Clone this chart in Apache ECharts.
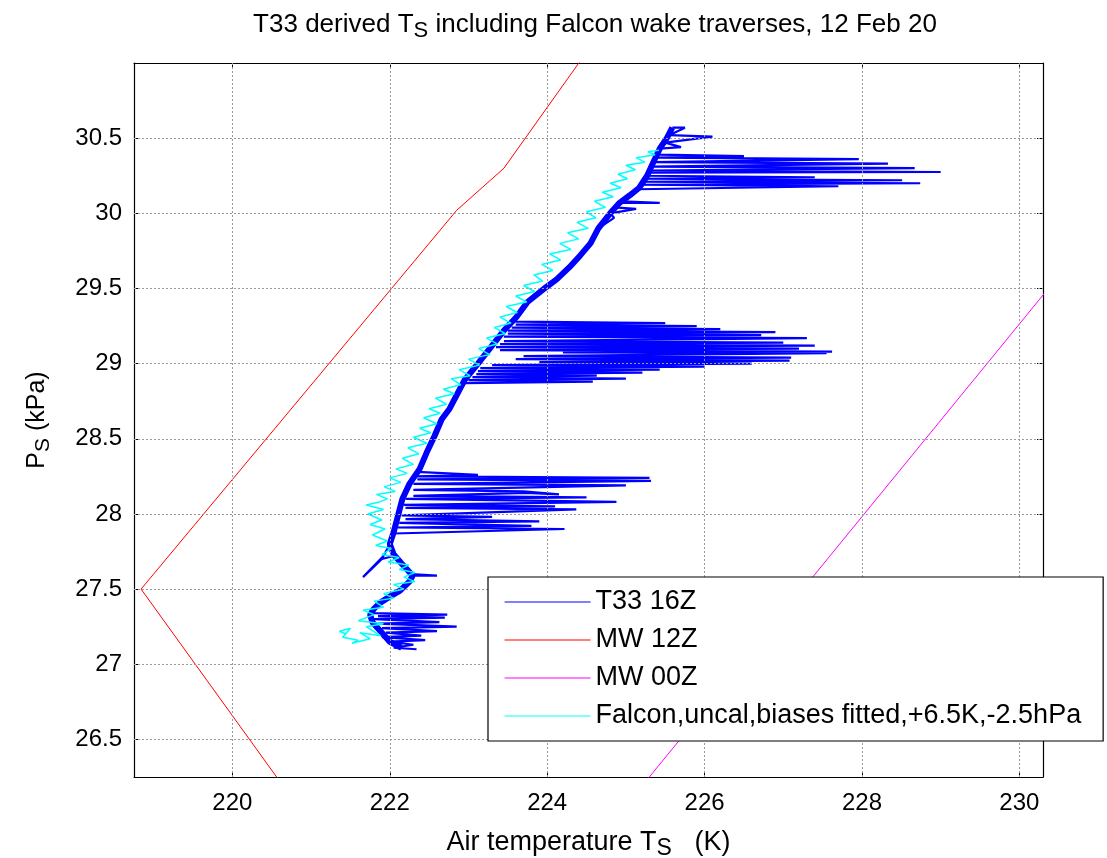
<!DOCTYPE html>
<html><head><meta charset="utf-8">
<script src="https://cdn.jsdelivr.net/npm/echarts@6/dist/echarts.min.js"></script>
<style>html,body{margin:0;padding:0;background:#fff}#c{width:1107px;height:858px}</style>
</head><body><div id="c"></div>
<script>
const xTicks = [220, 222, 224, 226, 228, 230];
const yTicks = [26.5, 27, 27.5, 28, 28.5, 29, 29.5, 30, 30.5];

// T33 16Z full trace (with wake-traverse excursions), [T K, P kPa]
const t33Trace = [
  [222.34, 27.10], [222.05, 27.11], [222.3, 27.13], [222.0, 27.15], [222.45, 27.16], [221.9, 27.18], [222.4, 27.19],
  [221.95, 27.21], [222.6, 27.22], [221.9, 27.24], [222.85, 27.25], [221.85, 27.27], [222.63, 27.28], [221.8, 27.3],
  [222.7, 27.31], [221.85, 27.32], [222.73, 27.33], [221.78, 27.34],
  [221.8, 27.37], [221.88, 27.41], [222.0, 27.45], [222.13, 27.49], [222.25, 27.55], [222.29, 27.59], [222.6, 27.59],
  [222.27, 27.6], [222.15, 27.67], [222.05, 27.72], [221.9, 27.7], [221.66, 27.58], [221.92, 27.72], [222.0, 27.8], [222.05, 27.87],
  [224.22, 27.9], [222.1, 27.91], [223.8, 27.92], [222.12, 27.94], [223.9, 27.95], [222.2, 27.965], [223.3, 27.98], [222.15, 27.99],
  [224.37, 28.03], [222.2, 28.04], [224.1, 28.05], [222.18, 28.06], [224.88, 28.08], [222.2, 28.1], [224.5, 28.11], [222.3, 28.12],
  [223.74, 28.14], [224.15, 28.13], [223.7, 28.15], [222.3, 28.16], [225.0, 28.19], [222.3, 28.2], [225.32, 28.22], [222.35, 28.23],
  [225.3, 28.24], [222.35, 28.25], [223.12, 28.26], [222.35, 28.28],
  [222.47, 28.41], [222.57, 28.52], [222.66, 28.63], [222.76, 28.7], [222.95, 28.87],
  [224.58, 28.88], [223.0, 28.89], [225.0, 28.9], [223.05, 28.91], [224.63, 28.92], [223.1, 28.93], [225.21, 28.94], [223.12, 28.95],
  [225.43, 28.96], [223.15, 28.97], [226.0, 28.98], [223.3, 28.99], [226.6, 29.0], [223.9, 29.01], [227.08, 29.02], [223.6, 29.03],
  [227.1, 29.04], [223.7, 29.05], [227.55, 29.07], [224.2, 29.075], [227.62, 29.08], [223.4, 29.09], [227.2, 29.1], [223.35, 29.11],
  [227.4, 29.12], [223.4, 29.13], [227.0, 29.14], [223.45, 29.15], [227.3, 29.17], [223.45, 29.18], [226.72, 29.19], [223.5, 29.2],
  [226.9, 29.21], [223.5, 29.22], [226.2, 29.23], [223.55, 29.24], [225.9, 29.25], [223.6, 29.26], [225.5, 29.27], [223.6, 29.28],
  [223.61, 29.31], [223.75, 29.41], [223.99, 29.51], [224.12, 29.56], [224.28, 29.64], [224.42, 29.72], [224.55, 29.8], [224.65, 29.9],
  [224.85, 29.97], [224.8, 30.0], [225.13, 30.03], [224.85, 30.04], [224.92, 30.07], [225.43, 30.07], [224.95, 30.08], [225.05, 30.12],
  [225.15, 30.16],
  [227.7, 30.18], [225.18, 30.19], [228.74, 30.2], [225.2, 30.21], [228.51, 30.22], [225.22, 30.23], [227.4, 30.24], [225.25, 30.25],
  [225.28, 30.27], [229.0, 30.275], [225.3, 30.285], [228.67, 30.3], [225.32, 30.31], [228.33, 30.33], [225.35, 30.34], [227.96, 30.36],
  [225.4, 30.37], [226.5, 30.38], [225.42, 30.39],
  [225.43, 30.43], [225.7, 30.44], [225.5, 30.47], [226.1, 30.51], [225.55, 30.52], [225.75, 30.57], [225.59, 30.57]
];

// T33 16Z dense core of the profile
const t33Core = [
  [222.15, 27.11], [222.0, 27.15], [221.9, 27.21], [221.78, 27.28], [221.75, 27.33], [221.8, 27.37], [221.88, 27.41], [222.0, 27.45],
  [222.13, 27.49], [222.25, 27.55], [222.29, 27.59], [222.15, 27.67], [222.05, 27.73], [222.0, 27.8], [222.05, 27.88], [222.1, 27.98],
  [222.16, 28.1], [222.25, 28.2], [222.38, 28.3], [222.47, 28.41], [222.57, 28.52], [222.66, 28.63], [222.76, 28.7], [222.95, 28.89],
  [223.12, 29.0], [223.3, 29.12], [223.45, 29.22], [223.61, 29.31], [223.75, 29.41], [223.99, 29.51], [224.12, 29.56], [224.28, 29.64],
  [224.42, 29.72], [224.55, 29.8], [224.65, 29.9], [224.8, 30.0], [224.92, 30.07], [225.05, 30.12], [225.17, 30.17], [225.27, 30.25],
  [225.34, 30.33], [225.43, 30.43], [225.52, 30.5], [225.59, 30.57]
];

const mw12z = [[220.7, 26.15], [218.84, 27.5], [222.85, 30.02], [223.45, 30.3], [224.47, 31.05]];
const mw00z = [[225.22, 26.2], [230.4, 29.52]];

const falcon = [
  [221.45, 27.2], [221.36, 27.22], [221.5, 27.24], [221.4, 27.18], [221.6, 27.16], [221.52, 27.14], [221.75, 27.17], [221.62, 27.21],
  [221.88, 27.19], [221.7, 27.25], [221.92, 27.27], [221.6, 27.29], [221.8, 27.33], [221.66, 27.36], [221.92, 27.38], [221.8, 27.42],
  [222.05, 27.44], [221.92, 27.47], [222.18, 27.5], [222.05, 27.53], [222.32, 27.55], [222.18, 27.58], [222.32, 27.61], [222.12, 27.63],
  [222.24, 27.66], [221.98, 27.68], [222.12, 27.71], [221.9, 27.73], [222.02, 27.77], [221.82, 27.79], [221.97, 27.82], [221.78, 27.86],
  [221.94, 27.9], [221.75, 27.93], [221.9, 27.96], [221.72, 28.0], [221.92, 28.03], [221.7, 28.06], [221.87, 28.08], [221.97, 28.1],
  [221.83, 28.13], [222.07, 28.15], [221.93, 28.18], [222.14, 28.21], [222.0, 28.24], [222.22, 28.27], [222.08, 28.3], [222.3, 28.33],
  [222.16, 28.37], [222.37, 28.4], [222.23, 28.44], [222.47, 28.47], [222.3, 28.51], [222.52, 28.54], [222.38, 28.57], [222.6, 28.6],
  [222.43, 28.64], [222.64, 28.67], [222.5, 28.7], [222.72, 28.73], [222.58, 28.77], [222.82, 28.8], [222.68, 28.83], [222.9, 28.86],
  [222.78, 28.9], [223.02, 28.92], [222.88, 28.96], [223.14, 28.99], [223.0, 29.03], [223.27, 29.06], [223.13, 29.1], [223.37, 29.13],
  [223.23, 29.17], [223.47, 29.2], [223.33, 29.24], [223.54, 29.27], [223.4, 29.31], [223.62, 29.34], [223.48, 29.38], [223.74, 29.41],
  [223.6, 29.45], [223.84, 29.48], [223.7, 29.52], [223.94, 29.55], [223.83, 29.59], [224.07, 29.62], [223.93, 29.66], [224.17, 29.69],
  [224.03, 29.73], [224.3, 29.76], [224.16, 29.8], [224.4, 29.83], [224.26, 29.87], [224.52, 29.9], [224.38, 29.94], [224.62, 29.97],
  [224.5, 30.01], [224.74, 30.04], [224.6, 30.08], [224.84, 30.11], [224.7, 30.14], [224.94, 30.17], [224.8, 30.2], [225.02, 30.23],
  [224.9, 30.26], [225.12, 30.29], [225.0, 30.32], [225.24, 30.34], [225.13, 30.37], [225.37, 30.39], [225.28, 30.41], [225.42, 30.42]
];

const FONT = 'Liberation Sans';
const subRich = (size) => ({
  n: { fontFamily: FONT, fontSize: size, color: '#000', lineHeight: size + 8 },
  s: { fontFamily: FONT, fontSize: Math.round(size * 0.85), color: '#000', verticalAlign: 'bottom', lineHeight: Math.round(size * 0.85) }
});

const chart = echarts.init(document.getElementById('c'), null, { renderer: 'canvas' });
const gridLines = [];
xTicks.forEach(v => gridLines.push({ xAxis: v }));
yTicks.forEach(v => gridLines.push({ yAxis: v }));

const axisCommon = {
  type: 'value',
  axisLine: { show: true, onZero: false, lineStyle: { color: '#000', width: 1.2 } },
  splitLine: { show: false }
};

chart.setOption({
  animation: false,
  backgroundColor: '#fff',
  title: {
    text: '{n|T33 derived T}{s|S}{n| including Falcon wake traverses, 12 Feb 20}',
    left: 590, top: 3, textAlign: 'center',
    textStyle: { fontWeight: 'normal', rich: subRich(26) }
  },
  grid: { left: 134, top: 63, width: 909, height: 714, outerBoundsMode: 'none', containLabel: false },
  xAxis: [
    Object.assign({}, axisCommon, {
      min: 218.75, max: 230.3, position: 'bottom',
      axisTick: { show: true, inside: true, length: 6, customValues: xTicks, lineStyle: { color: '#000' } },
      axisLabel: { show: true, customValues: xTicks, margin: 14, fontFamily: FONT, fontSize: 24, color: '#000' },
      name: '{n|Air temperature T}{s|S}{n|   (K)}', nameLocation: 'middle', nameGap: 48,
      nameTextStyle: { rich: subRich(27) }
    }),
    Object.assign({}, axisCommon, {
      min: 218.75, max: 230.3, position: 'top',
      axisTick: { show: true, inside: true, length: 6, customValues: xTicks, lineStyle: { color: '#000' } },
      axisLabel: { show: false }
    })
  ],
  yAxis: [
    Object.assign({}, axisCommon, {
      min: 26.25, max: 31, position: 'left',
      axisTick: { show: true, inside: true, length: 6, customValues: yTicks, lineStyle: { color: '#000' } },
      axisLabel: { show: true, customValues: yTicks, margin: 12, fontFamily: FONT, fontSize: 24, color: '#000' },
      name: '{n|P}{s|S}{n| (kPa)}', nameLocation: 'middle', nameGap: 80, nameRotate: 90,
      nameTextStyle: { rich: subRich(25) }
    }),
    Object.assign({}, axisCommon, {
      min: 26.25, max: 31, position: 'right',
      axisTick: { show: true, inside: true, length: 6, customValues: yTicks, lineStyle: { color: '#000' } },
      axisLabel: { show: false }
    })
  ],
  legend: {
    data: ['T33 16Z', 'MW 12Z', 'MW 00Z', 'Falcon,uncal,biases fitted,+6.5K,-2.5hPa'],
    orient: 'vertical', left: 488, top: 577,
    padding: [11, 22, 11, 16], itemGap: 10, itemWidth: 86, itemHeight: 14,
    backgroundColor: '#fff', borderColor: '#000', borderWidth: 1.2, borderRadius: 0,
    lineStyle: { width: 1.2 },
    itemStyle: { opacity: 0 },
    textStyle: { fontFamily: FONT, fontSize: 27, color: '#000', lineHeight: 28 },
    selectedMode: false, z: 10
  },
  series: [
    {
      type: 'line', name: 'grid', data: [], z: 1, silent: true, symbol: 'none',
      markLine: {
        silent: true, symbol: ['none', 'none'], label: { show: false },
        lineStyle: { color: '#999', type: [2, 2], width: 1 },
        data: gridLines
      }
    },
    { type: 'line', name: 'T33 16Z', data: t33Trace, symbol: 'none', z: 2, lineStyle: { color: '#0000ff', width: 2.2 }, itemStyle: { color: '#0000ff' } },
    { type: 'line', name: 'T33 16Z', data: t33Core, symbol: 'none', z: 2, lineStyle: { color: '#0000ff', width: 6 }, itemStyle: { color: '#0000ff' } },
    { type: 'line', name: 'MW 12Z', data: mw12z, symbol: 'none', z: 2, lineStyle: { color: '#ff0000', width: 1 }, itemStyle: { color: '#ff0000' } },
    { type: 'line', name: 'MW 00Z', data: mw00z, symbol: 'none', z: 2, lineStyle: { color: '#ff00ff', width: 1 }, itemStyle: { color: '#ff00ff' } },
    { type: 'line', name: 'Falcon,uncal,biases fitted,+6.5K,-2.5hPa', data: falcon, symbol: 'none', z: 2, lineStyle: { color: '#00ffff', width: 1.5 }, itemStyle: { color: '#00ffff' } }
  ]
});
</script>
</body></html>
